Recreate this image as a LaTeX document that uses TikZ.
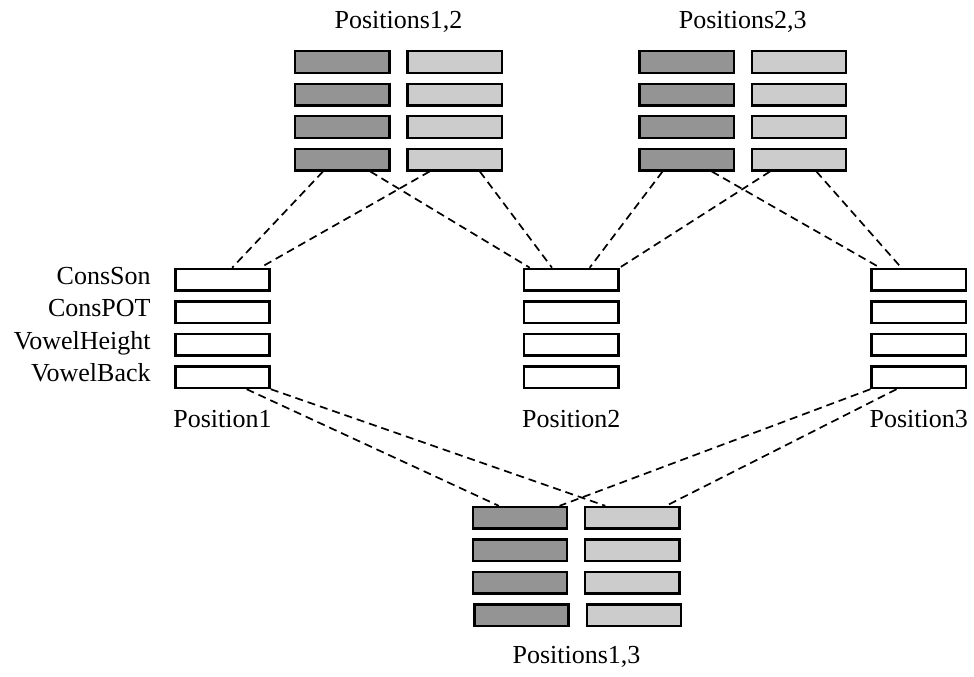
\documentclass[tikz,border=0pt]{standalone}
\usepackage{fontspec}
\setmainfont{Liberation Serif}
\usetikzlibrary{calc}

\definecolor{darkcell}{gray}{0.58}
\definecolor{lightcell}{gray}{0.80}

\begin{document}
\begin{tikzpicture}[x=0.5pt,y=-0.5pt,
  cell/.style={draw,line width=1.2pt,minimum width=47.1pt,minimum height=10.8pt,inner sep=0pt},
  link/.style={line width=0.85pt,dash pattern=on 4pt off 2.5pt},
  lab/.style={font=\fontsize{13}{15.6}\selectfont,inner sep=0pt}]
  \useasboundingbox (0,0) rectangle (974,676);
  \def\dy{32.5}

  % ============ pair groups (dark / light columns) ============
  \foreach \r in {1,...,4} {
    \node[cell,fill=darkcell]  (p12d\r) at (342.3,{62+(\r-1)*\dy}) {};
    \node[cell,fill=lightcell] (p12l\r) at (454.7,{62+(\r-1)*\dy}) {};
    \node[cell,fill=darkcell]  (p23d\r) at (686.7,{62+(\r-1)*\dy}) {};
    \node[cell,fill=lightcell] (p23l\r) at (799.0,{62+(\r-1)*\dy}) {};
  }
  % bottom group, last row sits slightly to the right
  \foreach \r/\dx in {1/0,2/0,3/0,4/1.5} {
    \node[cell,fill=darkcell]  (p13d\r) at (520.0+\dx,{517.8+(\r-1)*\dy}) {};
    \node[cell,fill=lightcell] (p13l\r) at (632.3+\dx,{517.8+(\r-1)*\dy}) {};
  }

  % ============ single positions (white) ============
  \foreach \r in {1,...,4} {
    \node[cell,fill=white] (p1r\r) at (222.5,{279.7+(\r-1)*\dy}) {};
    \node[cell,fill=white] (p2r\r) at (571.3,{279.7+(\r-1)*\dy}) {};
    \node[cell,fill=white] (p3r\r) at (918.7,{279.7+(\r-1)*\dy}) {};
  }

  % feature names
  \foreach \r/\t in {1/ConsSon,2/ConsPOT,3/VowelHeight,4/VowelBack}
    \node[lab,anchor=mid east] (feat\r) at (151,{279.7+(\r-1)*\dy}) {\t};

  % group labels
  \node[lab,anchor=base] (l12) at (398.5,28)  {Positions1,2};
  \node[lab,anchor=base] (l23) at (742.8,28)  {Positions2,3};
  \node[lab,anchor=base] (l1)  at (222.5,427) {Position1};
  \node[lab,anchor=base] (l2)  at (571.3,427) {Position2};
  \node[lab,anchor=base] (l3)  at (918.7,427) {Position3};
  \node[lab,anchor=base] (l13) at (576.5,663) {Positions1,3};

  % ============ dashed links (bottom edge of a -> top edge of b) ============
  \foreach \a/\fa/\b/\fb in {p12d4/0.30/p1r1/0.60, p12d4/0.79/p2r1/0.07,
                             p12l4/0.24/p1r1/0.89, p12l4/0.76/p2r1/0.30,
                             p23d4/0.25/p2r1/0.69, p23d4/0.76/p3r1/0.10,
                             p23l4/0.20/p2r1/1.00, p23l4/0.68/p3r1/0.32,
                             p1r4/0.75/p13d1/0.28, p1r4/1.00/p13l1/0.22,
                             p3r4/0.00/p13d1/0.91, p3r4/0.27/p13l1/0.85}
    \draw[link] ($(\a.south west)!\fa!(\a.south east)$) -- ($(\b.north west)!\fb!(\b.north east)$);
\end{tikzpicture}
\end{document}
